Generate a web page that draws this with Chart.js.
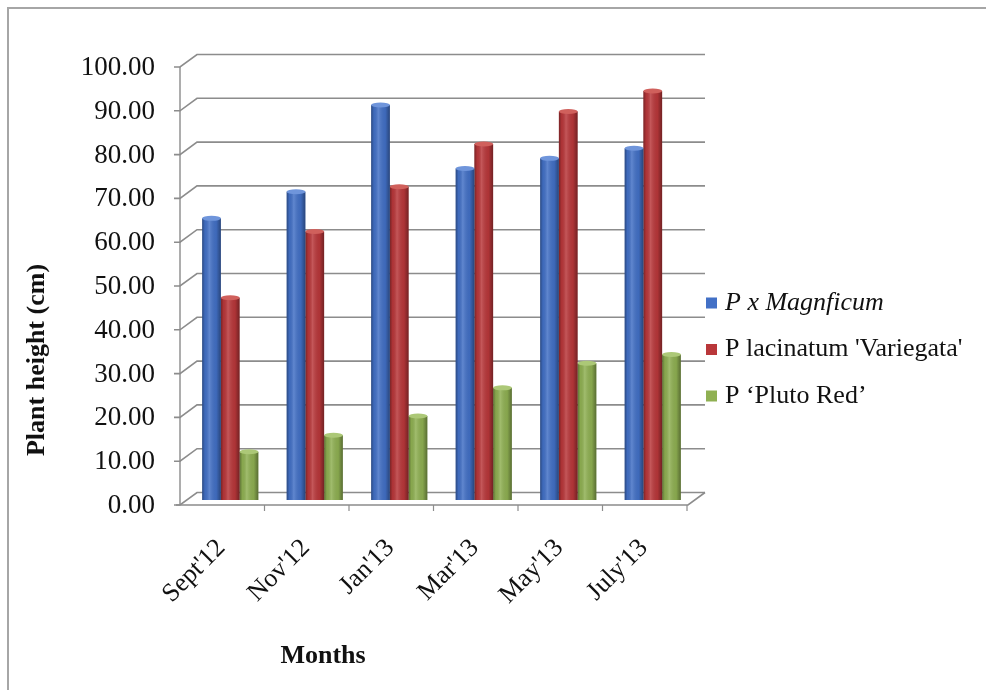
<!DOCTYPE html>
<html>
<head>
<meta charset="utf-8">
<title>Plant height (cm)</title>
<script src="https://cdn.jsdelivr.net/npm/chart.js@4.4.1/dist/chart.umd.min.js"></script>
<style>
	body { margin: 0; background: #fff; }
	canvas { display: block; }
</style>
</head>
<body>
<canvas id="myChart" width="994" height="691"></canvas>
<script>
//global variables
var months = ["Sept'12", "Nov'12", "Jan'13", "Mar'13", "May'13", "July'13"];
var magnficum = [64.3, 70.4, 90.2, 75.7, 78.0, 80.3];
var variegata = [46.2, 61.3, 71.5, 81.3, 88.7, 93.4];
var plutoRed = [11.0, 14.8, 19.2, 25.6, 31.2, 33.2];
var seriesNames = ["P x Magnficum", "P lacinatum 'Variegata'", "P \u2018Pluto Red\u2019"];
var yTicks = [0, 10, 20, 30, 40, 50, 60, 70, 80, 90, 100];

var serif = "'Liberation Serif', 'Times New Roman', serif";
var barColors = ['#4270c6', '#b9373a', '#8fb052'];
var capColors = ['#6f95db', '#d0605c', '#acc877'];
var legendStyles = ['italic', 'normal', 'normal'];
var myBarChart = null;

/**
	white page with the thin grey frame round it
*/
function drawPage(chart){
	var ctx = chart.ctx;
	ctx.save();
	ctx.fillStyle = '#fff';
	ctx.fillRect(0, 0, chart.width, chart.height);
	ctx.strokeStyle = '#a6a6a6';
	ctx.lineWidth = 2;
	ctx.beginPath();
	ctx.moveTo(8, 690);
	ctx.lineTo(8, 8);
	ctx.lineTo(986, 8);
	ctx.stroke();
	ctx.restore();
}

/**
	back wall grid, left edge and floor drawn
	with a small depth offset (fake 3d box)
*/
function drawWalls(chart){
	var ctx = chart.ctx;
	var y = chart.scales.y;
	var area = chart.chartArea;
	var fx = area.left - 8;		//front edge
	var bx = area.left + 9;		//back edge
	var rx = area.right + 10;	//back right end
	var frx = area.right - 7;	//front right end
	var depth = 12.5;

	ctx.save();
	ctx.strokeStyle = '#8c8c8c';
	ctx.lineWidth = 1.6;
	for(var i = 0; i < yTicks.length; i++)
	{
		var fy = y.getPixelForValue(yTicks[i]) + 5;
		ctx.beginPath();
		ctx.moveTo(fx - 6, fy);
		ctx.lineTo(fx, fy);
		ctx.lineTo(bx, fy - depth);
		ctx.lineTo(rx, fy - depth);
		ctx.stroke();
	}
	var top = y.getPixelForValue(100) + 5;
	var bottom = y.getPixelForValue(0) + 5;
	ctx.strokeStyle = '#8a8a8a';
	ctx.lineWidth = 1.4;
	ctx.beginPath();
	ctx.moveTo(fx, top);
	ctx.lineTo(fx, bottom);
	ctx.stroke();

	//floor front edge
	ctx.strokeStyle = '#8c8c8c';
	ctx.lineWidth = 1.6;
	ctx.beginPath();
	ctx.moveTo(fx - 4, bottom);
	ctx.lineTo(frx, bottom);
	ctx.lineTo(rx, bottom - depth);
	ctx.stroke();

	//category tick marks
	var step = (area.right - area.left) / months.length;
	ctx.lineWidth = 1.2;
	for(var k = 1; k <= months.length; k++)
	{
		var tx = area.left + k * step - 8;
		ctx.beginPath();
		ctx.moveTo(tx, bottom);
		ctx.lineTo(tx, bottom + 6);
		ctx.stroke();
	}
	ctx.restore();
}

//round shading and a lighter cap on every column
function shadeBars(chart){
	var ctx = chart.ctx;
	ctx.save();
	chart.data.datasets.forEach(function(ds, d){
		var meta = chart.getDatasetMeta(d);
		meta.data.forEach(function(bar){
			var x0 = bar.x - bar.width / 2;
			var g = ctx.createLinearGradient(x0, 0, x0 + bar.width, 0);
			g.addColorStop(0, 'rgba(0,0,0,0.35)');
			g.addColorStop(0.15, 'rgba(0,0,0,0.05)');
			g.addColorStop(0.38, 'rgba(255,255,255,0.16)');
			g.addColorStop(0.75, 'rgba(0,0,0,0.06)');
			g.addColorStop(1, 'rgba(0,0,0,0.38)');
			ctx.fillStyle = g;
			ctx.fillRect(x0, bar.y, bar.width, bar.base - bar.y);

			ctx.beginPath();
			ctx.ellipse(bar.x, bar.y, bar.width / 2, 2.5, 0, 0, Math.PI * 2);
			ctx.fillStyle = capColors[d];
			ctx.fill();
		});
	});
	ctx.restore();
}

//legend on the right and both axis titles
function drawLabels(chart){
	var ctx = chart.ctx;
	ctx.save();
	ctx.textBaseline = 'middle';
	ctx.textAlign = 'left';
	chart.data.datasets.forEach(function(ds, d){
		var rowY = 303 + d * 46.5;
		ctx.fillStyle = ds.backgroundColor;
		ctx.fillRect(706, rowY - 5.5, 11, 11);
		ctx.fillStyle = '#111';
		ctx.font = legendStyles[d] + ' 26px ' + serif;
		ctx.fillText(ds.label, 725, rowY);
	});

	ctx.font = 'bold 26px ' + serif;
	ctx.textAlign = 'center';
	ctx.fillText('Months', 323, 656);

	ctx.translate(37, 360);
	ctx.rotate(-Math.PI / 2);
	ctx.fillText('Plant height (cm)', 0, 0);
	ctx.restore();
}

var frame3d = {
	id: 'frame3d',
	beforeDraw: drawPage,
	beforeDatasetsDraw: drawWalls,
	afterDatasetsDraw: shadeBars,
	afterDraw: drawLabels
};

function showDataChart(){
	var ctx = document.getElementById('myChart');

	var data = {
		labels: months,
		datasets: [
			{ label: seriesNames[0], data: magnficum, backgroundColor: barColors[0] },
			{ label: seriesNames[1], data: variegata, backgroundColor: barColors[1] },
			{ label: seriesNames[2], data: plutoRed, backgroundColor: barColors[2] }
		]
	};

	myBarChart = new Chart(ctx, {
		type: 'bar',
		data: data,
		options: {
			responsive: false,
			animation: false,
			layout: { padding: { top: 62, right: 299, bottom: 0, left: 0 } },
			datasets: {
				bar: { categoryPercentage: 0.665, barPercentage: 1.0, borderWidth: 0 }
			},
			plugins: {
				legend: { display: false },
				tooltip: { enabled: false }
			},
			scales: {
				x: {
					grid: { display: false, drawTicks: false },
					border: { display: false },
					ticks: {
						autoSkip: false, minRotation: 45, maxRotation: 45,
						padding: 33, labelOffset: -9,
						color: '#111', font: { family: serif, size: 26 }
					},
					afterFit: function(scale){ scale.height = 191; }
				},
				y: {
					min: 0,
					max: 100,
					grid: { display: false, drawTicks: false },
					border: { display: false },
					afterBuildTicks: function(scale){
						scale.ticks = yTicks.map(function(v){ return { value: v }; });
					},
					ticks: {
						padding: 33, labelOffset: 6,
						color: '#111', font: { family: serif, size: 27 },
						callback: function(v){ return v.toFixed(2); }
					},
					afterFit: function(scale){ scale.width = 188; }
				}
			}
		},
		plugins: [frame3d]
	});
}

showDataChart();
</script>
</body>
</html>
